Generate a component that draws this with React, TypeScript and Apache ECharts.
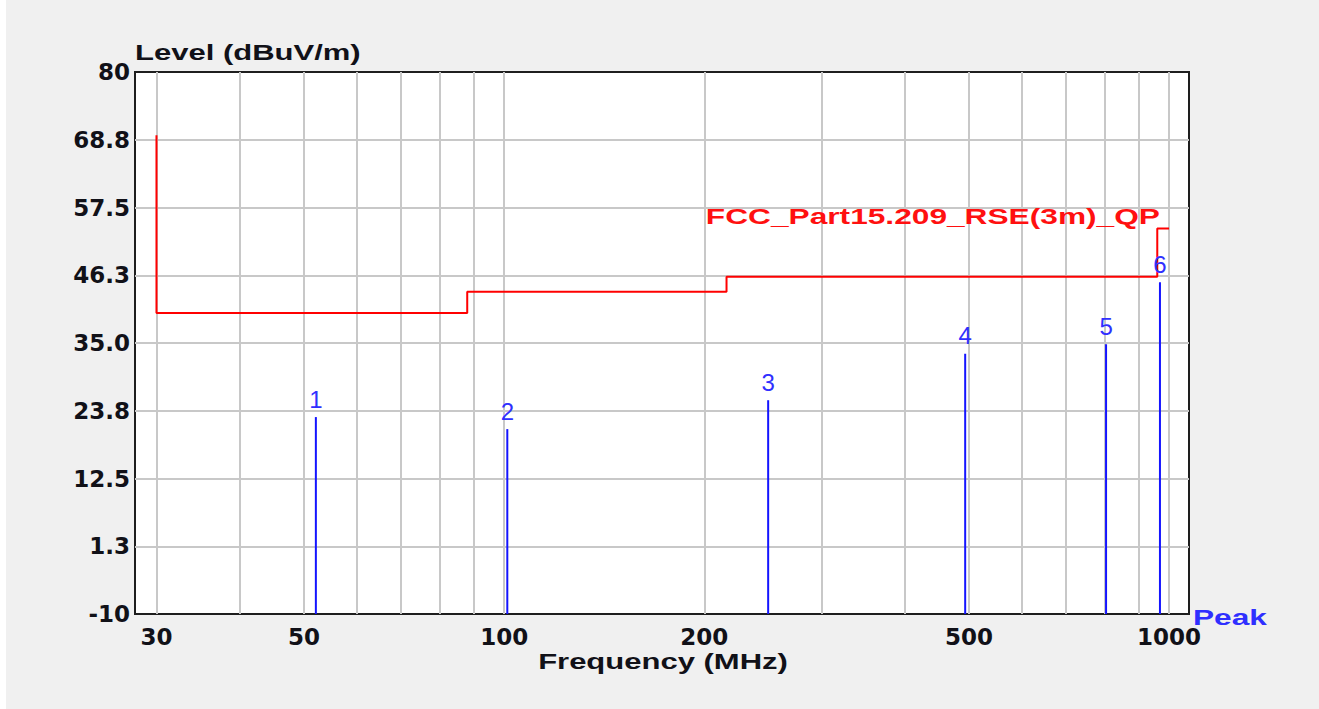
import React, { useEffect, useRef } from "react";
import * as echarts from "echarts";

// Frequencies in MHz, levels in dBuV/m
const limitFreqs = [30, 30, 88, 88, 216, 216, 960, 960, 1000];
const limitLevels = [69.5, 40, 40, 43.5, 43.5, 46, 46, 54, 54];

const peakFreqs = [52.1, 101.1, 249.5, 493.6, 804, 969];
const peakLevels = [22.7, 20.7, 25.5, 33.2, 34.8, 45.1];
const peakNames = ["1", "2", "3", "4", "5", "6"];

const xLabelFreqs = [30, 50, 100, 200, 500, 1000];
const xGridFreqs = [30, 40, 50, 60, 70, 80, 90, 100, 200, 300, 400, 500, 600, 700, 800, 900, 1000];
const yLabelValues = [-10, 1.25, 12.5, 23.75, 35, 46.25, 57.5, 68.75, 80];
const yGridValues = [1.25, 12.5, 23.75, 35, 46.25, 57.5, 68.75];

const X_MIN_FREQ = 27.85;
const X_MAX_FREQ = 1071.5;
const Y_MIN = -10;
const Y_MAX = 80;

const LIMIT_NAME = "FCC_Part15.209_RSE(3m)_QP";

export default function App() {
  const ref = useRef<HTMLDivElement>(null);

  useEffect(() => {
    if (!ref.current) return;
    const chart = echarts.init(ref.current, null, { renderer: "svg" });
    const tickFont = {
      fontFamily: "DejaVu Sans",
      fontWeight: "bold" as const,
      fontSize: 23,
      color: "#111118",
    };
    const titleFont = 'bold 22px "Liberation Sans", Arial, sans-serif';
    const SX = 1.41;

    chart.setOption({
      animation: false,
      backgroundColor: "#f0f0f0",
      grid: {
        left: 129,
        right: 130,
        top: 72,
        bottom: 95,
        show: true,
        backgroundColor: "#ffffff",
        borderColor: "#1e1e1e",
        borderWidth: 2,
        containLabel: false,
      },
      xAxis: {
        type: "value",
        min: Math.log10(X_MIN_FREQ),
        max: Math.log10(X_MAX_FREQ),
        axisLine: { show: false },
        axisTick: { show: false, customValues: xGridFreqs.map((f) => Math.log10(f)) },
        axisLabel: {
          customValues: xLabelFreqs.map((f) => Math.log10(f)),
          formatter: (v: number) => String(Math.round(Math.pow(10, v))),
          margin: 11,
          ...tickFont,
        },
        splitLine: { show: true, lineStyle: { color: "#c8c8c8", width: 2 } },
      },
      yAxis: {
        type: "value",
        min: Y_MIN,
        max: Y_MAX,
        axisLine: { show: false },
        axisTick: { show: false, customValues: yGridValues },
        axisLabel: {
          customValues: yLabelValues,
          formatter: (v: number) =>
            v === Y_MAX || v === Y_MIN ? String(v) : v.toFixed(1),
          margin: 5,
          ...tickFont,
        },
        splitLine: { show: true, lineStyle: { color: "#c8c8c8", width: 2 } },
      },
      series: [
        {
          name: LIMIT_NAME,
          type: "line",
          data: limitFreqs.map((f, i) => [Math.log10(f), limitLevels[i]]),
          showSymbol: false,
          symbol: "none",
          lineStyle: { color: "#ff0000", width: 2 },
          z: 3,
        },
        {
          name: "Peak",
          type: "custom",
          data: peakFreqs.map((f, i) => [Math.log10(f), peakLevels[i]]),
          z: 4,
          renderItem: (params: any, api: any) => {
            const x = api.value(0);
            const y = api.value(1);
            const top = api.coord([x, y]);
            const bottom = api.coord([x, Y_MIN]);
            return {
              type: "group",
              children: [
                {
                  type: "line",
                  shape: { x1: top[0], y1: top[1], x2: bottom[0], y2: bottom[1] },
                  style: { stroke: "#1414ff", lineWidth: 2 },
                },
                {
                  type: "text",
                  x: top[0],
                  y: top[1] - 18,
                  style: {
                    text: peakNames[params.dataIndex],
                    align: "center",
                    verticalAlign: "middle",
                    fill: "#3030ff",
                    font: '24px "Liberation Sans", Arial, sans-serif',
                  },
                },
              ],
            };
          },
        },
      ],
      graphic: [
        {
          type: "text",
          x: 129,
          y: 53,
          scaleX: SX,
          style: {
            text: "Level (dBuV/m)",
            font: titleFont,
            fill: "#111118",
            align: "left",
            verticalAlign: "middle",
          },
        },
        {
          type: "text",
          x: 657,
          y: 662,
          scaleX: SX,
          style: {
            text: "Frequency (MHz)",
            font: titleFont,
            fill: "#111118",
            align: "center",
            verticalAlign: "middle",
          },
        },
        {
          type: "text",
          x: 1154,
          y: 216,
          scaleX: 1.44,
          z: 10,
          style: {
            text: LIMIT_NAME,
            font: titleFont,
            fill: "#ff1010",
            align: "right",
            verticalAlign: "middle",
          },
        },
        {
          type: "text",
          x: 1187,
          y: 617,
          scaleX: 1.44,
          style: {
            text: "Peak",
            font: titleFont,
            fill: "#2f2fff",
            align: "left",
            verticalAlign: "middle",
          },
        },
      ],
    });
    return () => chart.dispose();
  }, []);

  return (
    <div
      ref={ref}
      style={{ position: "fixed", left: 6, top: 0, width: 1313, height: 709 }}
    />
  );
}
